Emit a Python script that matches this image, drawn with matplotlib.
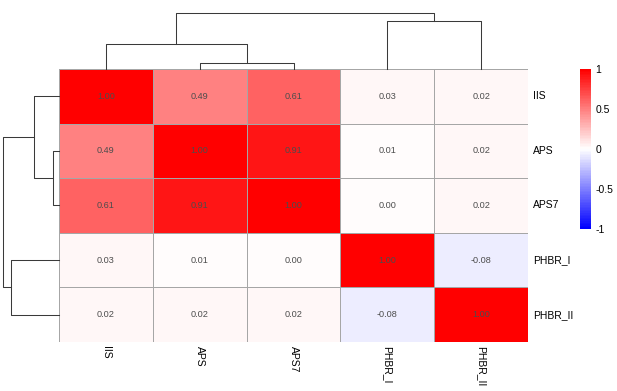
import numpy as np
import matplotlib
matplotlib.use('Agg')
import matplotlib.pyplot as plt
from matplotlib.colors import LinearSegmentedColormap

plt.rcParams['font.family'] = ['Liberation Sans', 'DejaVu Sans']

labels = ['IIS', 'APS', 'APS7', 'PHBR_I', 'PHBR_II']
iis = [1.00, 0.49, 0.61, 0.03, 0.02]
aps = [0.49, 1.00, 0.91, 0.01, 0.02]
aps7 = [0.61, 0.91, 1.00, 0.00, 0.02]
phbr_i = [0.03, 0.01, 0.00, 1.00, -0.08]
phbr_ii = [0.02, 0.02, 0.02, -0.08, 1.00]
cbar_ticks = [-1, -0.5, 0, 0.5, 1]
cbar_labels = ['-1', '-0.5', '0', '0.5', '1']

mat = np.array([iis, aps, aps7, phbr_i, phbr_ii])
n = len(labels)


def complete_linkage(m):
    # euclidean distance between rows, complete linkage (like hclust default)
    d = np.sqrt(((m[:, None, :] - m[None, :, :]) ** 2).sum(-1))
    clusters = {i: [i] for i in range(len(m))}
    merges = []
    nid = len(m)
    while len(clusters) > 1:
        keys = list(clusters)
        best = None
        for i in range(len(keys)):
            for j in range(i + 1, len(keys)):
                a, b = keys[i], keys[j]
                h = max(d[p, q] for p in clusters[a] for q in clusters[b])
                if best is None or h < best[2]:
                    best = (a, b, h)
        a, b, h = best
        merges.append((a, b, h, nid))
        clusters[nid] = clusters.pop(a) + clusters.pop(b)
        nid += 1
    return merges


def draw_dendro(ax, merges, orient):
    pos = {i: float(i) for i in range(n)}
    hgt = {i: 0.0 for i in range(n)}
    for a, b, h, nid in merges:
        xs = [pos[a], pos[a], pos[b], pos[b]]
        ys = [hgt[a], h, h, hgt[b]]
        if orient == 'top':
            ax.plot(xs, ys, color='#3a3a3a', lw=0.75, clip_on=False)
        else:
            ax.plot(ys, xs, color='#3a3a3a', lw=0.75, clip_on=False)
        pos[nid] = (pos[a] + pos[b]) / 2
        hgt[nid] = h
    return max(m[2] for m in merges)


merges = complete_linkage(mat)

W, H = 617, 391
fig = plt.figure(figsize=(W / 100, H / 100), dpi=100)

hx0, hx1, hy0, hy1 = 59, 528, 69, 342
ax = fig.add_axes([hx0 / W, 1 - hy1 / H, (hx1 - hx0) / W, (hy1 - hy0) / H])
cmap = LinearSegmentedColormap.from_list('bwr', ['blue', 'white', 'red'], N=100)
mesh = ax.pcolormesh(mat, cmap=cmap, vmin=-1, vmax=1,
                     edgecolors='#a6a6a6', linewidth=0.6)
ax.set_xlim(0, n)
ax.set_ylim(n, 0)
for s in ax.spines.values():
    s.set_visible(False)
ax.set_xticks([])
ax.set_yticks([])
for i in range(n):
    for j in range(n):
        ax.text(j + 0.5, i + 0.5, f'{mat[i, j]:.2f}', ha='center', va='center',
                fontsize=6.6, color='#4d4d4d')
for i, lab in enumerate(labels):
    ax.text(n + 0.05, i + 0.5, lab, ha='left', va='center', fontsize=7.5)
    ax.text(i + 0.5, n + 0.08, lab, ha='center', va='top', rotation=270,
            fontsize=7.5)

# column dendrogram
axt = fig.add_axes([hx0 / W, 1 - hy0 / H, (hx1 - hx0) / W, (hy0 - 13) / H])
top = draw_dendro(axt, merges, 'top')
axt.set_xlim(-0.5, n - 0.5)
axt.set_ylim(0, top)
axt.axis('off')

# row dendrogram
axl = fig.add_axes([3 / W, 1 - hy1 / H, (hx0 - 3) / W, (hy1 - hy0) / H])
draw_dendro(axl, merges, 'left')
axl.set_xlim(top, 0)
axl.set_ylim(n - 0.5, -0.5)
axl.axis('off')

# colour legend
cax = fig.add_axes([580 / W, 1 - 229 / H, 11 / W, 160 / H])
cb = fig.colorbar(mesh, cax=cax, ticks=cbar_ticks)
cb.ax.set_yticklabels(cbar_labels)
cb.outline.set_visible(False)
cb.ax.tick_params(length=0, pad=3, labelsize=7.5)

fig.savefig('out.png', dpi=100)
